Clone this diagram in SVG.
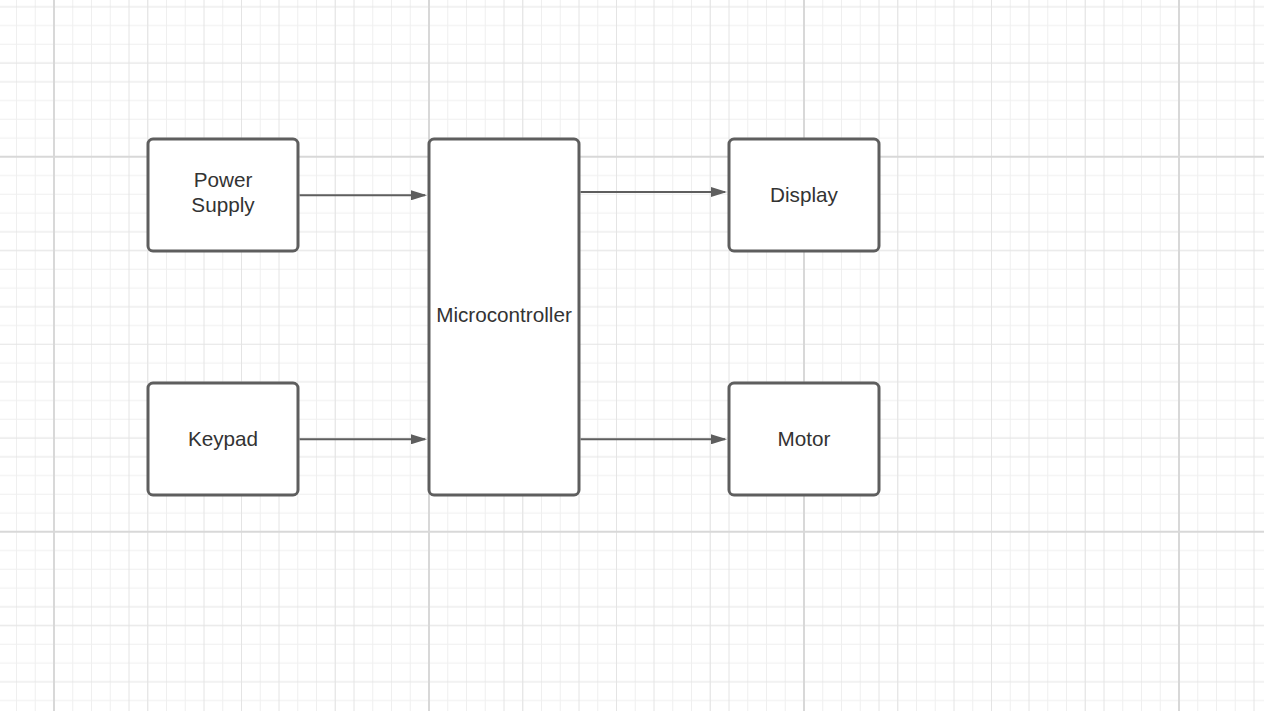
<svg xmlns="http://www.w3.org/2000/svg" width="1264" height="711" viewBox="0 0 1264 711">
<defs>
<style>
.node{fill:#ffffff;stroke:#5e5e5e;stroke-width:3}
.lbl{font-family:"Liberation Sans",Arial,sans-serif;font-size:20.7px;fill:#333333;text-anchor:middle}
.edge{stroke:#5e5e5e;stroke-width:2;fill:none}
</style>
<pattern id="grid" patternUnits="userSpaceOnUse" x="53" y="155.75" width="375" height="375">
<path fill="none" stroke="#efefef" stroke-width="1" d="M19.75 0V375M38.5 0V375M57.25 0V375M94.75 0V375M113.5 0V375M132.25 0V375M169.75 0V375M207.25 0V375M244.75 0V375M263.5 0V375M282.25 0V375M319.75 0V375M338.5 0V375M357.25 0V375M0 19.75H375M0 38.5H375M0 57.25H375M0 94.75H375M0 113.5H375M0 132.25H375M0 169.75H375M0 207.25H375M0 244.75H375M0 263.5H375M0 282.25H375M0 319.75H375M0 338.5H375M0 357.25H375"/>
<path fill="none" stroke="#e4e4e4" stroke-width="1" d="M76 0V375M94.75 0V375M151 0V375M188.5 0V375M226 0V375M282.25 0V375M301 0V375M0 76H375M0 94.75H375M0 151H375M0 188.5H375M0 226H375M0 282.25H375M0 301H375"/>
<path fill="none" stroke="#d8d8d8" stroke-width="2" d="M1 0V375M0 1H375"/>
</pattern>
<marker id="arrow" markerUnits="userSpaceOnUse" markerWidth="16" markerHeight="10" refX="14" refY="5" orient="auto">
<path d="M0 0L16 5L0 10Z" fill="#5e5e5e"/>
</marker>
</defs>
<rect x="0" y="0" width="1264" height="711" fill="#ffffff"/>
<rect x="0" y="0" width="1264" height="711" fill="url(#grid)"/>
<g id="connectors">
<line class="edge" x1="299.5" y1="195.3" x2="425" y2="195.3" marker-end="url(#arrow)"/>
<line class="edge" x1="299.5" y1="439.3" x2="425" y2="439.3" marker-end="url(#arrow)"/>
<line class="edge" x1="580.5" y1="192" x2="725" y2="192" marker-end="url(#arrow)"/>
<line class="edge" x1="580.5" y1="439.3" x2="725" y2="439.3" marker-end="url(#arrow)"/>
</g>
<g id="power-supply">
<rect class="node" x="148" y="139" width="150" height="112" rx="5"/>
<text class="lbl" x="223" y="186.7">Power</text>
<text class="lbl" x="223" y="211.7">Supply</text>
</g>
<g id="keypad">
<rect class="node" x="148" y="383" width="150" height="112" rx="5"/>
<text class="lbl" x="223" y="446">Keypad</text>
</g>
<g id="microcontroller">
<rect class="node" x="429" y="139" width="150" height="356" rx="5"/>
<text class="lbl" x="504" y="322">Microcontroller</text>
</g>
<g id="display">
<rect class="node" x="729" y="139" width="150" height="112" rx="5"/>
<text class="lbl" x="804" y="201.7">Display</text>
</g>
<g id="motor">
<rect class="node" x="729" y="383" width="150" height="112" rx="5"/>
<text class="lbl" x="804" y="446">Motor</text>
</g>
</svg>
